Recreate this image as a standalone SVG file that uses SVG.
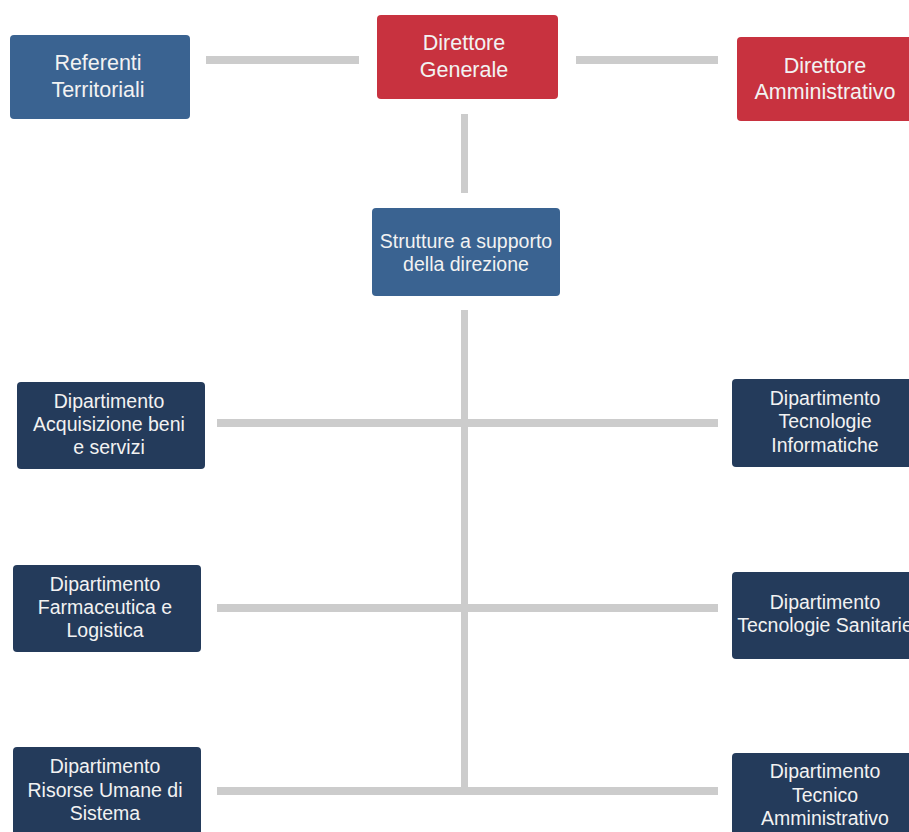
<svg xmlns="http://www.w3.org/2000/svg" width="909" height="832" viewBox="0 0 909 832">
<style>
.box{stroke:none}
.blue{fill:#3a6391}
.red{fill:#c8323f}
.navy{fill:#243b5b}
.t{font-family:"Liberation Sans",Arial,sans-serif;fill:#f2f2f2;text-anchor:middle}
.big{font-size:21.5px}
.sm{font-size:19.5px}
.ln{fill:#cccccc}
</style>
<rect width="909" height="832" fill="#ffffff"/>
<g id="connectors">
<rect class="ln" x="206" y="56" width="153" height="8"/>
<rect class="ln" x="576" y="56" width="142" height="8"/>
<rect class="ln" x="461" y="114" width="7" height="79"/>
<rect class="ln" x="461" y="310" width="7" height="481"/>
<rect class="ln" x="217" y="419" width="501" height="8"/>
<rect class="ln" x="217" y="604" width="501" height="8"/>
<rect class="ln" x="217" y="787" width="501" height="8"/>
</g>
<g id="referenti">
<rect class="box blue" x="10" y="35" width="180" height="84" rx="4"/>
<text class="t big" x="98" y="70">Referenti</text>
<text class="t big" x="98" y="97">Territoriali</text>
</g>
<g id="direttore-generale">
<rect class="box red" x="377" y="15" width="181" height="84" rx="4"/>
<text class="t big" x="464" y="50">Direttore</text>
<text class="t big" x="464" y="77">Generale</text>
</g>
<g id="direttore-amministrativo">
<rect class="box red" x="737" y="37" width="180" height="84" rx="4"/>
<text class="t big" x="825" y="73">Direttore</text>
<text class="t big" x="825" y="99">Amministrativo</text>
</g>
<g id="strutture">
<rect class="box blue" x="372" y="208" width="188" height="88" rx="4"/>
<text class="t sm" x="466" y="248">Strutture a supporto</text>
<text class="t sm" x="466" y="271">della direzione</text>
</g>
<g id="dip-acquisizione">
<rect class="box navy" x="17" y="382" width="188" height="87" rx="4"/>
<text class="t sm" x="109" y="408">Dipartimento</text>
<text class="t sm" x="109" y="431">Acquisizione beni</text>
<text class="t sm" x="109" y="454">e servizi</text>
</g>
<g id="dip-tecnologie-informatiche">
<rect class="box navy" x="732" y="379" width="188" height="88" rx="4"/>
<text class="t sm" x="825" y="405">Dipartimento</text>
<text class="t sm" x="825" y="428">Tecnologie</text>
<text class="t sm" x="825" y="452">Informatiche</text>
</g>
<g id="dip-farmaceutica">
<rect class="box navy" x="13" y="565" width="188" height="87" rx="4"/>
<text class="t sm" x="105" y="591">Dipartimento</text>
<text class="t sm" x="105" y="614">Farmaceutica e</text>
<text class="t sm" x="105" y="637">Logistica</text>
</g>
<g id="dip-tecnologie-sanitarie">
<rect class="box navy" x="732" y="572" width="188" height="87" rx="4"/>
<text class="t sm" x="825" y="609">Dipartimento</text>
<text class="t sm" x="825" y="632">Tecnologie Sanitarie</text>
</g>
<g id="dip-risorse-umane">
<rect class="box navy" x="13" y="747" width="188" height="95" rx="4"/>
<text class="t sm" x="105" y="773">Dipartimento</text>
<text class="t sm" x="105" y="797">Risorse Umane di</text>
<text class="t sm" x="105" y="820">Sistema</text>
</g>
<g id="dip-tecnico-amministrativo">
<rect class="box navy" x="732" y="753" width="188" height="95" rx="4"/>
<text class="t sm" x="825" y="778">Dipartimento</text>
<text class="t sm" x="825" y="802">Tecnico</text>
<text class="t sm" x="825" y="825">Amministrativo</text>
</g>
</svg>
